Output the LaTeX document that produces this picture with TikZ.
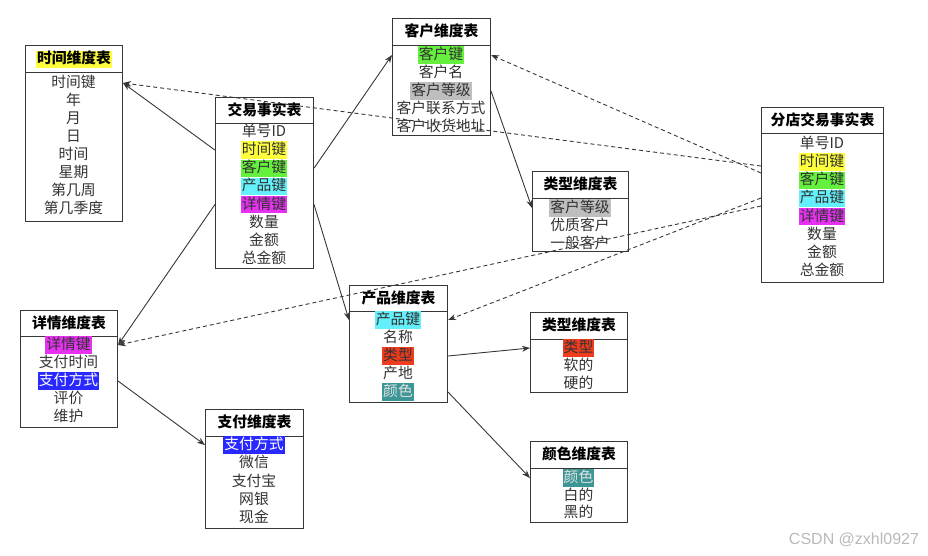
\documentclass[tikz,border=0pt]{standalone}
\usepackage{fontspec}
\setmainfont{Noto Sans CJK SC}
\newfontfamily\wmfont{Liberation Sans}
\usetikzlibrary{arrows.meta}
\definecolor{frame}{RGB}{55,55,55}
\definecolor{txt}{RGB}{50,50,50}
\definecolor{cyel}{RGB}{255,255,60}
\definecolor{cgrn}{RGB}{100,240,60}
\definecolor{ccyn}{RGB}{100,240,250}
\definecolor{cmag}{RGB}{230,50,240}
\definecolor{cgry}{RGB}{190,190,190}
\definecolor{cblu}{RGB}{40,40,255}
\definecolor{cred}{RGB}{240,60,30}
\definecolor{ctea}{RGB}{60,150,150}
\tikzset{
  hdr/.style={draw=frame, line width=1pt, anchor=north west, inner sep=0pt},
  body/.style={draw=frame, line width=1pt, anchor=north west, inner sep=0pt},
  titlet/.style={inner xsep=1pt, inner ysep=0.5pt, text height=12.5pt, text depth=3.5pt,
    font=\fontsize{14.8}{17}\selectfont\bfseries, text=black},
  rowt/.style={inner xsep=1pt, inner ysep=0.5pt, text height=12.8pt, text depth=3.6pt,
    font=\fontsize{14.8}{17}\selectfont, text=txt},
  plain/.style={},
  hy/.style={fill=cyel},
  hg/.style={fill=cgrn},
  hc/.style={fill=ccyn},
  hm/.style={fill=cmag},
  hgr/.style={fill=cgry},
  hb/.style={fill=cblu, text=white},
  hr/.style={fill=cred, text=txt},
  ht/.style={fill=ctea, text=white!88!black},
  conn/.style={draw=frame, line width=0.9pt, -{Stealth[length=8pt,width=6pt]}},
  dconn/.style={conn, dash pattern=on 4pt off 3pt},
}
% name, L, R, T, HB, B, title, title style
\newcommand\mktable[8]{%
  \node[hdr, minimum width={#3-#2}, minimum height={#5-#4}] (#1h) at (#2,#4) {};
  \node[body, minimum width={#3-#2}, minimum height={#6-#5}] (#1b) at (#2,#5) {};
  \node[titlet, #8] (#1t) at (#1h.center) {#7};
}
% name, center x, first y, step, list
\newcommand\mkrows[5]{%
  \foreach \s/\t [count=\i] in {#5} {
    \node[rowt, \s] (#1\i) at (#2, {#3 + #4*(\i-1)}) {\t};
  }
}
\begin{document}
\begin{tikzpicture}[x=1pt, y=-1pt]
\useasboundingbox (0,0) rectangle (928,555);

\mktable{time}{25}{122}{45}{72}{221}{时间维度表}{hy}
\mkrows{time}{73.5}{83}{18}{plain/时间键,plain/年,plain/月,plain/日,plain/时间,plain/星期,plain/第几周,plain/第几季度}

\mktable{fact}{215}{313}{97}{123}{268}{交易事实表}{plain}
\mkrows{fact}{264}{132}{18.1}{plain/单号ID,hy/时间键,hg/客户键,hc/产品键,hm/详情键,plain/数量,plain/金额,plain/总金额}

\mktable{cust}{392}{490}{18}{45}{135}{客户维度表}{plain}
\mkrows{cust}{441}{55}{18}{hg/客户键,plain/客户名,hgr/客户等级,plain/客户联系方式,plain/客户收货地址}

\mktable{ctype}{532}{628}{171}{198}{251}{类型维度表}{plain}
\mkrows{ctype}{580}{208}{18}{hgr/客户等级,plain/优质客户,plain/一般客户}

\mktable{branch}{761}{883}{107}{133}{282}{分店交易事实表}{plain}
\mkrows{branch}{822}{144}{18.1}{plain/单号ID,hy/时间键,hg/客户键,hc/产品键,hm/详情键,plain/数量,plain/金额,plain/总金额}

\mktable{detail}{20}{117}{310}{336}{427}{详情维度表}{plain}
\mkrows{detail}{68.5}{345}{18}{hm/详情键,plain/支付时间,hb/支付方式,plain/评价,plain/维护}

\mktable{prod}{349}{447}{285}{311}{402}{产品维度表}{plain}
\mkrows{prod}{398}{320}{18}{hc/产品键,plain/名称,hr/类型,plain/产地,ht/颜色}

\mktable{ptype}{530}{627}{312}{339}{392}{类型维度表}{plain}
\mkrows{ptype}{578.5}{348}{18}{hr/类型,plain/软的,plain/硬的}

\mktable{pay}{205}{303}{409}{436}{528}{支付维度表}{plain}
\mkrows{pay}{254}{445}{18.2}{hb/支付方式,plain/微信,plain/支付宝,plain/网银,plain/现金}

\mktable{color}{530}{627}{441}{468}{522}{颜色维度表}{plain}
\mkrows{color}{578.5}{478}{17.5}{ht/颜色,plain/白的,plain/黑的}

% solid connectors
\draw[conn] (factb.west |- fact2) -- (timeb.east |- time1);
\draw[conn] (factb.east |- fact3) -- (custb.west |- cust1);
\draw[conn] (factb.east |- fact5) -- (prodb.west |- prod1);
\draw[conn] (factb.west |- fact5) -- (detailb.east |- detail1);
\draw[conn] (custb.east |- cust3) -- (ctypeb.west |- ctype1);
\draw[conn] (prodb.east |- prod3) -- (ptypeb.west |- ptype1);
\draw[conn] (prodb.east |- prod5) -- (colorb.west |- color1);
\draw[conn] (detailb.east |- detail3) -- (payb.west |- pay1);

% dashed connectors from branch fact table
\coordinate (bt) at (761,166);
\coordinate (bc) at (761,173);
\coordinate (bp) at (761,198);
\coordinate (bd) at (761,206);
\draw[dconn] (bt) -- (timeb.east |- time1);
\draw[dconn] (bc) -- (custb.east |- cust1);
\draw[dconn] (bp) -- (prodb.east |- prod1);
\draw[dconn] (bd) -- (detailb.east |- detail1);

\node[text=gray!55, font=\wmfont\fontsize{16}{16}\selectfont] (wm) at (854,540) {CSDN @zxhl0927};
\end{tikzpicture}
\end{document}
